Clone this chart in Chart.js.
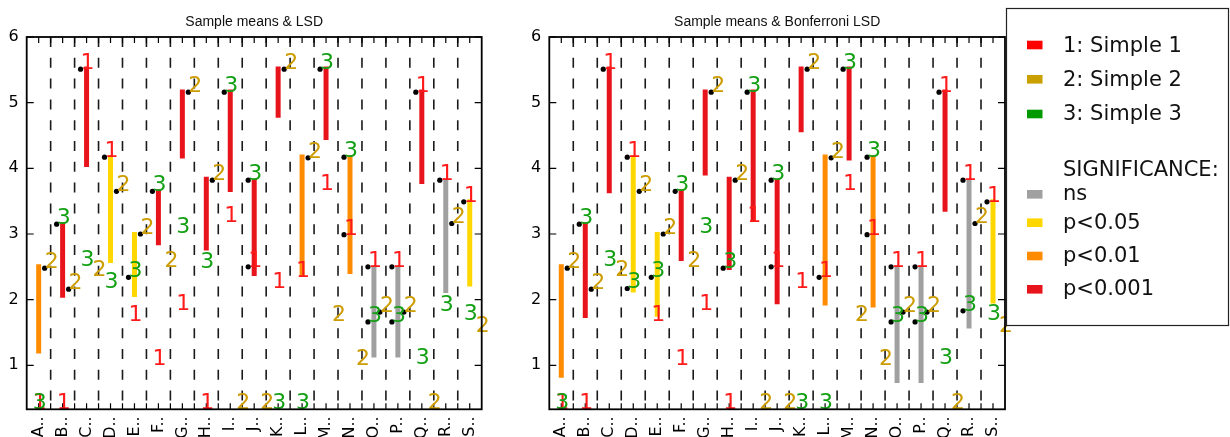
<!DOCTYPE html>
<html><head><meta charset="utf-8">
<script src="https://cdn.jsdelivr.net/npm/chart.js@4.4.1/dist/chart.umd.min.js"></script>
<style>
html,body{margin:0;padding:0;background:#fff;width:1230px;height:437px;overflow:hidden}
canvas{position:absolute;top:0}
#c1{left:0}
#c2{left:500px}
</style></head><body>
<canvas id="c1" width="500" height="437"></canvas>
<canvas id="c2" width="730" height="437"></canvas>
<script>
// ---------- DATA ----------
const categories = ['A..','B..','C..','D..','E..','F..','G..','H..','I..','J..','K..','L..','M..','N..','O..','P..','Q..','R..','S..'];
// sample means of the three groups (values at 0.33 sit on the bottom of the axis)
const mean1 = [0.33,0.33,5.51,4.17,1.68,1.01,1.84,0.33,3.18,2.50,2.17,2.34,3.67,2.99,2.50,2.50,5.16,3.82,3.49];
const mean2 = [2.48,2.16,2.36,3.65,3.00,2.50,5.16,3.82,0.33,0.33,5.51,4.16,1.67,1.01,1.81,1.81,0.33,3.16,1.50];
const mean3 = [0.33,3.15,2.51,2.17,2.34,3.65,3.02,2.48,5.16,3.82,0.33,0.33,5.51,4.17,1.66,1.66,1.02,1.83,1.69];
// LSD bars
const lsdHigh = [2.54,3.18,5.55,4.20,3.03,3.68,5.20,3.87,5.20,3.84,5.55,4.21,5.55,4.20,2.52,2.52,5.20,3.85,3.53];
const lsdLow  = [1.18,2.03,4.02,2.56,2.04,2.83,4.15,2.75,3.64,2.36,4.77,2.36,4.43,2.39,1.12,1.12,3.76,2.10,2.20];
const lsdSig  = ['p<0.01','p<0.001','p<0.001','p<0.05','p<0.05','p<0.001','p<0.001','p<0.001','p<0.001','p<0.001','p<0.001','p<0.01','p<0.001','p<0.01','ns','ns','p<0.001','ns','p<0.05'];
// Bonferroni LSD bars
const bonHigh = [2.54,3.18,5.55,4.20,3.03,3.68,5.20,3.87,5.20,3.84,5.55,4.21,5.55,4.20,2.52,2.52,5.20,3.85,3.53];
const bonLow  = [0.81,1.72,3.62,2.11,1.74,2.59,3.89,2.45,3.19,1.93,4.55,1.91,4.12,1.88,0.73,0.73,3.34,1.56,1.94];
const bonSig  = ['p<0.01','p<0.001','p<0.001','p<0.05','p<0.05','p<0.001','p<0.001','p<0.001','p<0.001','p<0.001','p<0.001','p<0.01','p<0.001','p<0.01','ns','ns','p<0.001','ns','p<0.05'];
// which group means carry a black marker
const lsdDot1 = [0,0,1,1,0,0,0,0,0,1,0,0,0,1,1,1,1,1,1];
const lsdDot2 = [1,1,0,1,1,0,1,1,0,0,1,1,0,0,1,1,0,1,0];
const lsdDot3 = [0,1,0,0,1,1,0,0,1,1,0,0,1,1,1,1,0,0,0];
const bonDot1 = [0,0,1,1,0,0,0,0,0,1,0,1,0,1,1,1,1,1,1];
const bonDot2 = [1,1,0,1,1,0,1,1,0,0,1,1,0,0,1,1,0,1,0];
const bonDot3 = [0,1,0,1,1,1,0,1,1,1,0,0,1,1,1,1,0,1,0];
const yTicks = [1,2,3,4,5,6];
const groupNames = ['1: Simple 1','2: Simple 2','3: Simple 3'];
const sigNames = ['ns','p<0.05','p<0.01','p<0.001'];

// ---------- STYLE ----------
const Y_MIN = 0.33, Y_MAX = 6;
const groupColors = ['#ff1a1a','#cc9c00','#14a014'];
const groupPatch = ['#ff0000','#c9a000','#009a00'];
const sigColors = {'ns':'#a0a0a0','p<0.05':'#ffd700','p<0.01':'#ff8c00','p<0.001':'#e8141c'};
const groupOffset = [-0.25, 0.25, -0.25];
const FONT = '"DejaVu Sans"';

function makeChart(id, title, high, low, sig, dots, yW, padRight, withLegend) {
  const means = [mean1, mean2, mean3];
  const datasets = [];
  categories.forEach((c, i) => {
    datasets.push({
      data: [{x: i, y: low[i]}, {x: i, y: high[i]}],
      showLine: true, borderColor: sigColors[sig[i]], borderWidth: 5,
      borderCapStyle: 'butt', pointRadius: 0, order: 2
    });
  });
  const pts = [];
  for (let g = 0; g < 3; g++) categories.forEach((c, i) => {
    if (dots[g][i]) pts.push({x: i + groupOffset[g], y: means[g][i]});
  });
  datasets.push({data: pts, pointRadius: 2.6, pointBackgroundColor: '#000', pointBorderWidth: 0, showLine: false, order: 1});

  const deco = {
    id: 'deco' + id,
    beforeDatasetsDraw(chart) {
      const {ctx, chartArea: a, scales: {x, y}} = chart;
      ctx.save();
      ctx.strokeStyle = '#1a1a1a'; ctx.lineWidth = 1.6;
      ctx.setLineDash([10, 10.8]);
      for (let k = 0; k < categories.length - 1; k++) {
        const px = x.getPixelForValue(k + 0.5);
        ctx.beginPath(); ctx.moveTo(px, a.top); ctx.lineTo(px, a.bottom); ctx.stroke();
      }
      ctx.setLineDash([]);
      ctx.strokeStyle = '#000'; ctx.lineWidth = 1.2;
      for (let k = 0; k <= 2 * categories.length; k++) {
        const v = -0.5 + k / 2;
        if (k === 0 || k === 2 * categories.length) continue;
        const px = x.getPixelForValue(v);
        ctx.beginPath(); ctx.moveTo(px, a.top); ctx.lineTo(px, a.top + 6);
        ctx.moveTo(px, a.bottom); ctx.lineTo(px, a.bottom - 6); ctx.stroke();
      }
      yTicks.forEach(v => {
        const py = y.getPixelForValue(v);
        ctx.beginPath(); ctx.moveTo(a.left, py); ctx.lineTo(a.left + 7, py);
        ctx.moveTo(a.right, py); ctx.lineTo(a.right - 7, py); ctx.stroke();
      });
      ctx.restore();
    },
    afterDatasetsDraw(chart) {
      const {ctx, chartArea: a, scales: {x, y}} = chart;
      ctx.save();
      ctx.font = '22px ' + FONT; ctx.textAlign = 'left'; ctx.textBaseline = 'alphabetic';
      for (let g = 0; g < 3; g++) {
        ctx.fillStyle = groupColors[g];
        categories.forEach((c, i) => {
          const v = Math.max(means[g][i], Y_MIN);
          ctx.fillText(String(g + 1), x.getPixelForValue(i + groupOffset[g]), y.getPixelForValue(v));
        });
      }
      ctx.strokeStyle = '#000'; ctx.lineWidth = 1.8;
      ctx.strokeRect(a.left, a.top, a.right - a.left, a.bottom - a.top);
      ctx.fillStyle = '#111'; ctx.font = '14px "Liberation Sans"'; ctx.textAlign = 'center';
      ctx.fillText(title, (a.left + a.right) / 2, 26);
      ctx.restore();
    },
    afterDraw(chart) {
      if (!withLegend) return;
      const ctx = chart.ctx;
      const bx = chart.chartArea.right + 1;
      ctx.save();
      ctx.fillStyle = '#fff'; ctx.fillRect(bx, 8, 222, 317);
      ctx.strokeStyle = '#222'; ctx.lineWidth = 1.2; ctx.strokeRect(bx + 0.5, 8.5, 222, 317);
      ctx.font = '21px ' + FONT; ctx.textAlign = 'left'; ctx.textBaseline = 'alphabetic';
      const rows = [];
      groupNames.forEach((n, g) => rows.push({text: n, color: groupPatch[g]}));
      rows.push({text: 'SIGNIFICANCE:', color: null});
      sigNames.forEach(n => rows.push({text: n, color: sigColors[n]}));
      const baselines = [51.7, 86, 120, 175.7, 200, 229.3, 262.3, 295];
      const patchY = [45, 79.3, 114, null, 194.3, 222.7, 256, 289.3];
      rows.forEach((r, k) => {
        if (r.color) { ctx.fillStyle = r.color; ctx.fillRect(bx + 21, patchY[k] - 4.3, 15.5, 8.6); }
        ctx.fillStyle = '#111';
        ctx.fillText(r.text, bx + 57, baselines[k]);
      });
      ctx.restore();
    }
  };

  return new Chart(document.getElementById(id), {
    type: 'scatter',
    data: {datasets},
    options: {
      responsive: false, animation: false,
      layout: {padding: {top: 37, right: padRight, left: 0, bottom: 0}},
      plugins: {legend: {display: false}, tooltip: {enabled: false}, title: {display: false}},
      scales: {
        x: {
          type: 'linear', min: -0.5, max: 18.5,
          grid: {display: false, drawTicks: false}, border: {display: false},
          afterBuildTicks: s => { s.ticks = categories.map((c, i) => ({value: i})); },
          afterFit: s => { s.height = 27.7; },
          ticks: {autoSkip: false, minRotation: 90, maxRotation: 90, padding: 7, color: '#000',
                  font: {family: 'DejaVu Sans', size: 16}, callback: v => categories[v]}
        },
        y: {
          type: 'linear', min: Y_MIN, max: Y_MAX,
          grid: {display: false, drawTicks: false}, border: {display: false},
          afterBuildTicks: s => { s.ticks = yTicks.map(v => ({value: v})); },
          afterFit: s => { s.width = yW; },
          ticks: {padding: 8, color: '#000', font: {family: 'DejaVu Sans', size: 16}, callback: v => String(v)}
        }
      }
    },
    plugins: [deco]
  });
}

makeChart('c1', 'Sample means & LSD', lsdHigh, lsdLow, lsdSig, [lsdDot1, lsdDot2, lsdDot3], 26.7, 18.3, false);
makeChart('c2', 'Sample means & Bonferroni LSD', bonHigh, bonLow, bonSig, [bonDot1, bonDot2, bonDot3], 49.3, 225, true);
</script>
</body></html>
